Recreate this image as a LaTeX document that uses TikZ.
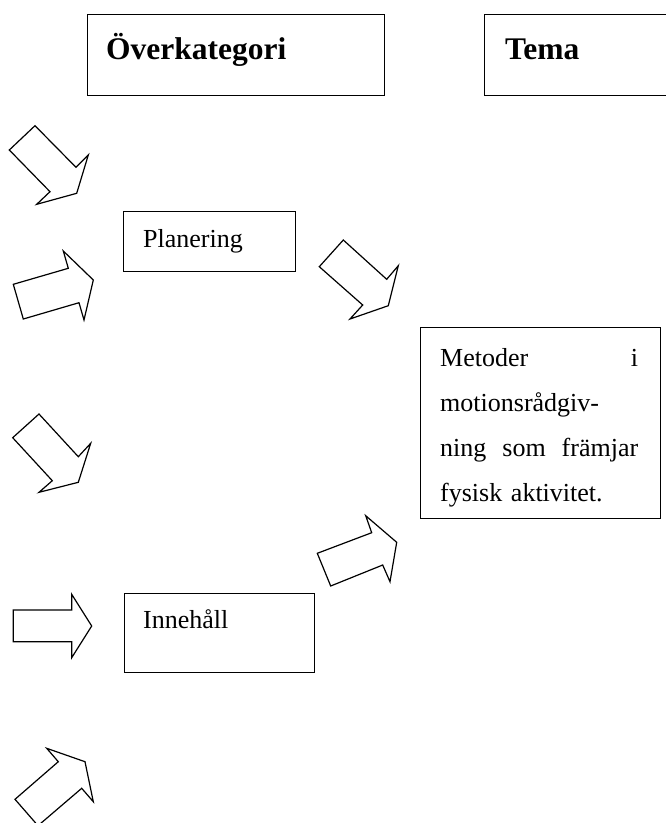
\documentclass[tikz,border=0pt]{standalone}
\usepackage{fontspec}
\setmainfont{Liberation Serif}
\tikzset{
 catbox/.style={draw,line width=1.2pt,rectangle,inner sep=0,anchor=north west},
 boxtext/.style={anchor=base west,inner sep=0,font=\fontsize{26}{45}\selectfont},
 headtext/.style={anchor=base west,inner sep=0,font=\fontsize{31.5}{38}\selectfont\bfseries},
 blockarrow/.style={draw,line width=1.2pt,line join=miter,fill=white}
}
\begin{document}
\begin{tikzpicture}[x=1pt,y=-1pt]
\clip (0,0) rectangle (666,823);
% headings
\node[catbox,minimum width=297,minimum height=81] (overkat) at (87,14) {};
\node[headtext] (overkattext) at (106,59) {Överkategori};
\node[catbox,minimum width=190,minimum height=81] (tema) at (484,14) {};
\node[headtext] (tematext) at (505,59) {Tema};
% categories
\node[catbox,minimum width=172,minimum height=60] (planering) at (123,211) {};
\node[boxtext] (planeringtext) at (143,247) {Planering};
\node[catbox,minimum width=190,minimum height=79] (innehall) at (124,593) {};
\node[boxtext] (innehalltext) at (143,628) {Innehåll};
% theme
\node[catbox,minimum width=240,minimum height=191] (metoder) at (420,327) {};
\node[boxtext,text width=198,align=left] (metodertext) at (440,366)
 {Metoder\hfill i\\motionsrådgiv-\\ning\hfill som\hfill främjar\\fysisk aktivitet.};
% block arrows
\draw[blockarrow] (35,125.7) -- (9.3,150) -- (50,191.7) -- (36.7,204.3) -- (76.7,193.3) -- (88.3,155) -- (76,167.3) -- cycle;
\draw[blockarrow] (13.3,284.3) -- (23.3,319) -- (79,302.7) -- (84,320) -- (93.3,280) -- (63.3,251) -- (68.3,268.3) -- cycle;
\draw[blockarrow] (343.3,240) -- (319.3,266.7) -- (362.7,305) -- (350,319) -- (388.3,305.7) -- (398.3,265.7) -- (386.7,279.3) -- cycle;
\draw[blockarrow] (39,414) -- (12.7,437.7) -- (52.3,480.7) -- (39,492.3) -- (78.3,482.3) -- (90.7,443.3) -- (78.3,456.7) -- cycle;
\draw[blockarrow] (317.3,553.3) -- (330.7,586) -- (382.7,565) -- (390,581.7) -- (396.7,542.3) -- (365.7,515.7) -- (371.7,532.7) -- cycle;
\draw[blockarrow] (13.3,610) -- (13.3,641.7) -- (71.7,641.7) -- (71.7,657.7) -- (91.7,626) -- (71.7,594.3) -- (71.7,610) -- cycle;
\draw[blockarrow] (15,799.3) -- (38,825.7) -- (81.7,788.3) -- (93.3,801.7) -- (85,761.7) -- (46.7,748.3) -- (58.3,761.7) -- cycle;
\end{tikzpicture}
\end{document}
